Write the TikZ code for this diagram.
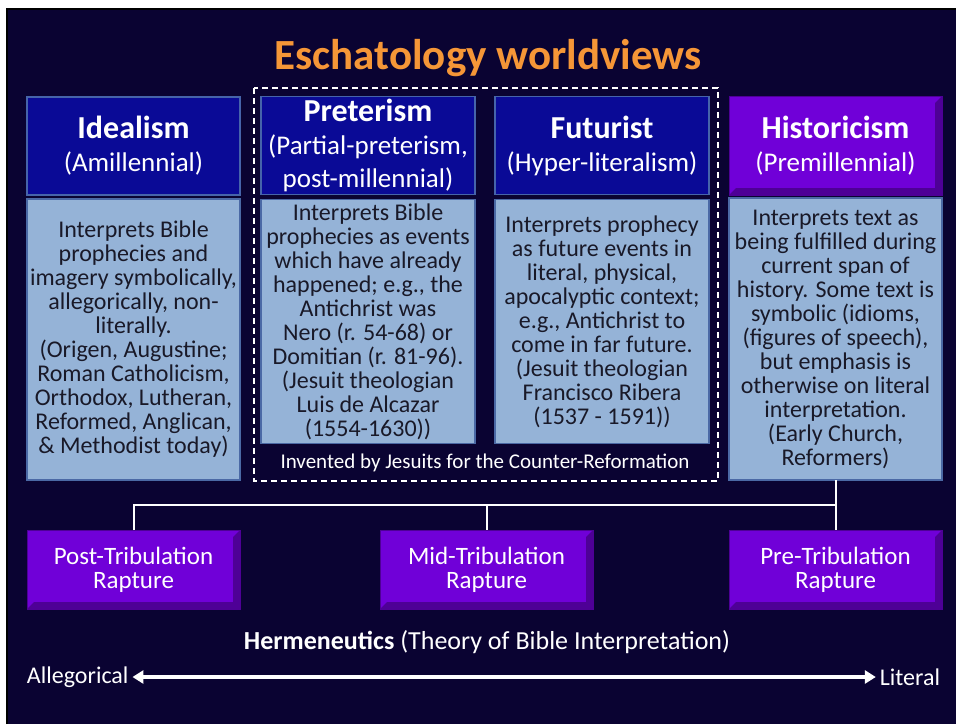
\documentclass[tikz,border=0pt]{standalone}
\usepackage{fontspec}
\setmainfont{Carlito}
\usetikzlibrary{arrows.meta,positioning,calc}

\definecolor{slidebg}{RGB}{10,3,50}
\definecolor{headblue}{RGB}{10,10,150}
\definecolor{headedge}{RGB}{70,100,170}
\definecolor{bodyblue}{RGB}{149,179,215}
\definecolor{bodyedge}{RGB}{75,105,165}
\definecolor{viewpurple}{RGB}{112,0,216}
\definecolor{viewpurpledark}{RGB}{78,0,150}
\definecolor{titleorange}{RGB}{245,150,55}
\definecolor{bodytext}{RGB}{25,25,40}

\begin{document}
\begin{tikzpicture}[x=1pt, y=-1pt,
    every node/.style={inner sep=0pt, outer sep=0pt},
    headbox/.style={draw=headedge, fill=headblue, line width=1.5pt, minimum width=213pt,
      minimum height=98pt, text=white, align=center, font=\fontsize{27}{33}\selectfont},
    bodybox/.style={draw=bodyedge, fill=bodyblue, line width=1.5pt, minimum width=213pt,
      text=bodytext, align=center, font=\fontsize{24}{24}\selectfont},
    bevelbox/.style={fill=viewpurple, draw=viewpurpledark, line width=1pt, minimum width=213pt,
      text=white, align=center,
      path picture={\fill[viewpurpledark] (path picture bounding box.south west)
        -- (path picture bounding box.south east) -- (path picture bounding box.north east)
        -- ([shift={(-7pt,-7pt)}]path picture bounding box.north east)
        -- ([shift={(-7pt,7pt)}]path picture bounding box.south east)
        -- ([shift={(7pt,7pt)}]path picture bounding box.south west) -- cycle;}},
    link/.style={draw=white, line width=2pt},
  ]
    % Slide background
    \useasboundingbox (0,0) rectangle (956,724);
    \fill[white] (0,0) rectangle (956,724);
    \fill[slidebg] (6,8) rectangle (956,724);
    \draw[black, line width=2pt] (7,724) -- (7,9) -- (956,9);

    % Title
    \node[font=\fontsize{43}{44}\selectfont\bfseries, text=titleorange] (title) at (488,58) {Eschatology worldviews};

    % Worldview headers
    \node[headbox] (idealhead) at (133.5,146) {{\fontsize{32}{33}\selectfont\bfseries Idealism}\\(Amillennial)};
    \node[headbox, minimum width=214pt] (prehead) at (368,145.5) {{\fontsize{32}{33}\selectfont\bfseries Preterism}\\(Partial-preterism,\\post-millennial)};
    \node[headbox, minimum width=214pt] (futhead) at (602,145.5) {{\fontsize{32}{33}\selectfont\bfseries Futurist}\\(Hyper-literalism)};
    \node[bevelbox, minimum height=99pt, font=\fontsize{27}{33}\selectfont] (histhead) at (835.5,145.5) {{\fontsize{32}{33}\selectfont\bfseries Historicism}\\(Premillennial)};

    % Worldview descriptions
    \node[bodybox, minimum height=281pt, below=4pt of idealhead] (idealbody) {Interprets Bible\\prophecies and\\imagery symbolically,\\allegorically, non-\\literally.\\(Origen, Augustine;\\Roman Catholicism,\\Orthodox, Lutheran,\\Reformed, Anglican,\\\& Methodist today)};
    \node[bodybox, minimum width=214pt, minimum height=244pt, below=5pt of prehead] (prebody) {Interprets Bible\\prophecies as events\\which have already\\happened; e.g., the\\Antichrist was\\Nero (r. 54-68) or\\Domitian (r. 81-96).\\(Jesuit theologian\\Luis de Alcazar\\(1554-1630))};
    \node[bodybox, minimum width=214pt, minimum height=244pt, below=5pt of futhead] (futbody) {Interprets prophecy\\as future events in\\literal, physical,\\apocalyptic context;\\e.g., Antichrist to\\come in far future.\\(Jesuit theologian\\Francisco Ribera\\(1537 - 1591))};
    \node[bodybox, minimum height=282pt, below=3pt of histhead] (histbody) {Interprets text as\\being fulfilled during\\current span of\\history. Some text is\\symbolic (idioms,\\(figures of speech),\\but emphasis is\\otherwise on literal\\interpretation.\\(Early Church,\\Reformers)};

    % Jesuit group
    \node[font=\fontsize{21}{22}\selectfont, text=white] (invented) at (485,463) {Invented by Jesuits for the Counter-Reformation};
    \draw[white, line width=2pt, dash pattern=on 6pt off 4pt] (254,88) rectangle (718,481);

    % Rapture views
    \node[bevelbox, minimum height=79pt, font=\fontsize{25}{24}\selectfont] (post) at (133.5,569.5) {Post-Tribulation\\Rapture};
    \node[bevelbox, minimum height=79pt, font=\fontsize{25}{24}\selectfont] (mid) at (486.5,569.5) {Mid-Tribulation\\Rapture};
    \node[bevelbox, minimum height=79pt, font=\fontsize{25}{24}\selectfont] (pre) at (835.5,569.5) {Pre-Tribulation\\Rapture};

    % Connectors
    \coordinate (bus) at (486.5,505);
    \draw[link] (histbody.south) -- (pre.north);
    \draw[link] (post.north) |- (bus) -- (mid.north);
    \draw[link] (bus) -- (bus -| pre.north);

    % Hermeneutics scale
    \node[font=\fontsize{26}{26}\selectfont, text=white] (herm) at (487,642) {\textbf{Hermeneutics} (Theory of Bible Interpretation)};
    \node[anchor=west, font=\fontsize{24}{24}\selectfont, text=white] (allegorical) at (27,677) {Allegorical};
    \node[anchor=east, font=\fontsize{24}{24}\selectfont, text=white] (literal) at (940,677) {Literal};
    \draw[white, line width=3.5pt, shorten <=4pt, shorten >=4pt,
      {Triangle[length=11pt,width=13pt]}-{Triangle[length=11pt,width=13pt]}] (allegorical.east) -- (literal.west);
\end{tikzpicture}
\end{document}
